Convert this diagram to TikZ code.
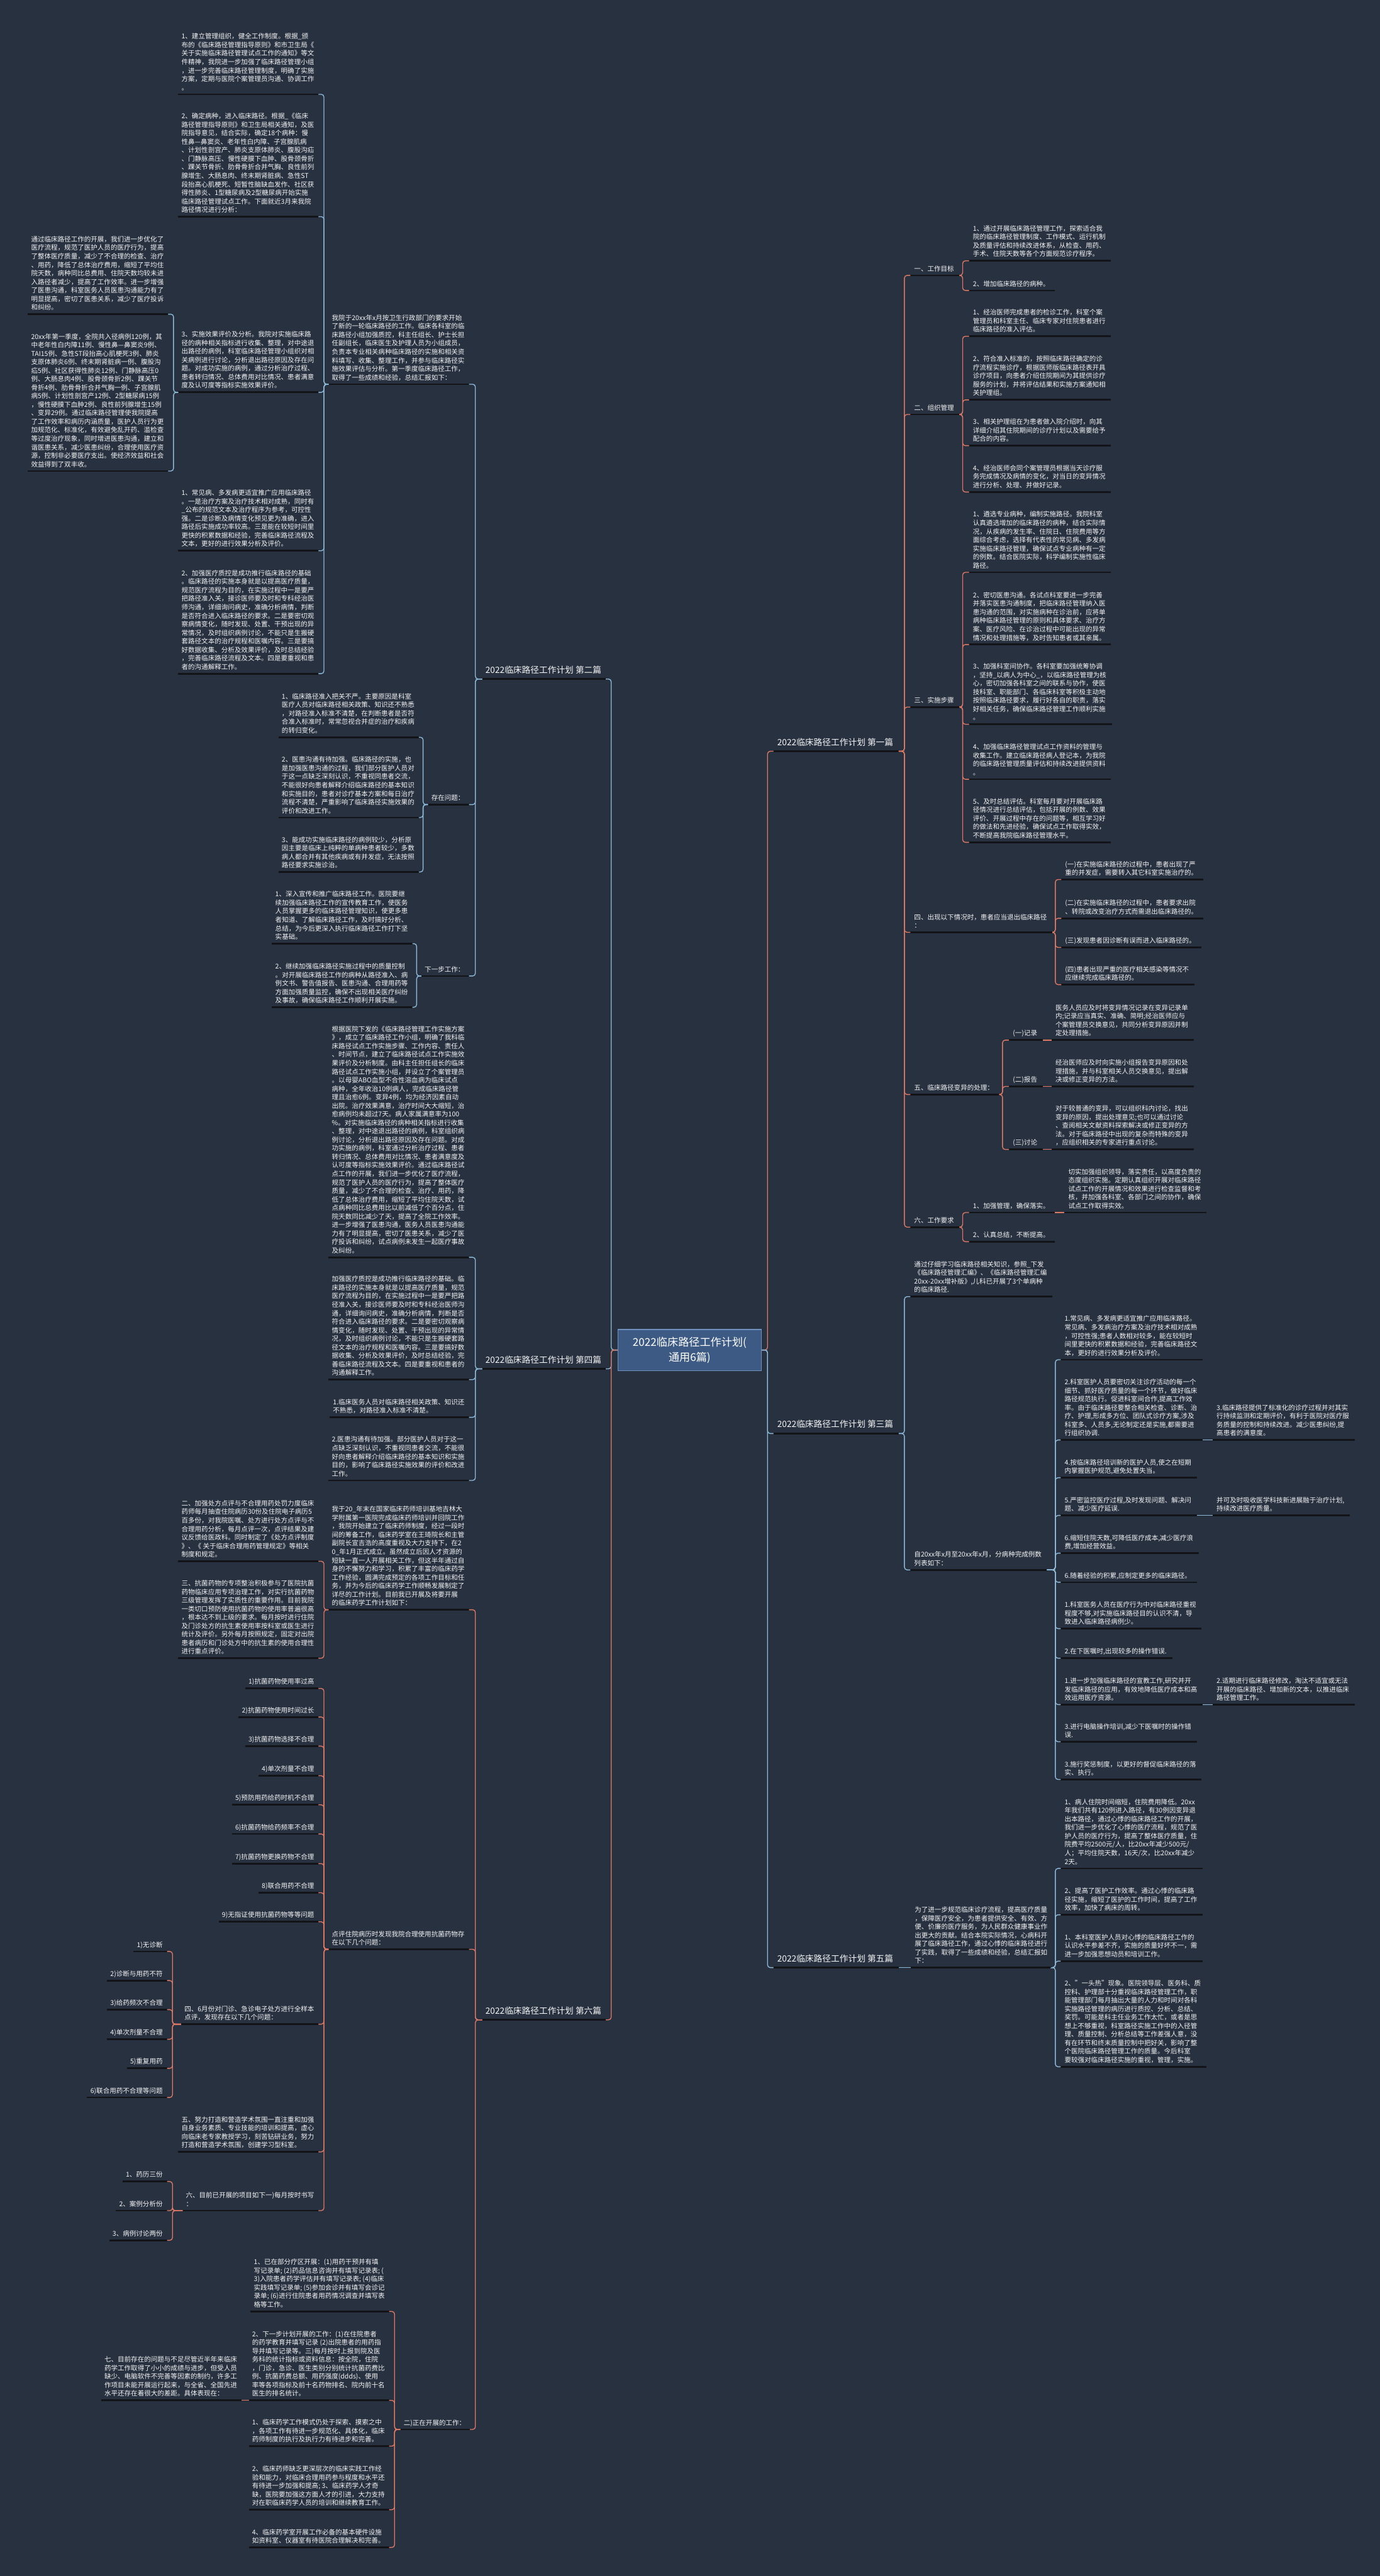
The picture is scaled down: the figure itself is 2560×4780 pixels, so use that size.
\documentclass[tikz,border=0pt]{standalone}
\usepackage{fontspec}
\setmainfont{Noto Sans CJK SC}
\definecolor{bgc}{RGB}{40,49,64}
\definecolor{ctrf}{RGB}{60,90,132}
\definecolor{ctrb}{RGB}{110,145,190}
\definecolor{bluec}{RGB}{140,185,215}
\definecolor{coralc}{RGB}{222,120,100}
\definecolor{ulc}{RGB}{18,20,24}
\definecolor{txtc}{RGB}{245,245,245}
\tikzset{
  txt/.style={inner sep=0pt, align=left, text=txtc, font=\fontsize{12.3}{15.8}\selectfont},
  lab/.style={font=\fontsize{16}{20}\selectfont, yshift=3pt},
  uline/.style={draw=ulc, line width=3.2pt},
  cb/.style={draw=bluec, line width=1.6pt, rounded corners=5pt},
  cr/.style={draw=coralc, line width=1.6pt, rounded corners=5pt},
}
% right-growing node: name, underline left x, underline y, text
\newcommand{\mmR}[5][]{%
  \node[txt,#1,anchor=base west] (#2) at ({#3+7},{#4-8}) {#5};
  \coordinate (#2-l) at (#3,#4);
  \path (#2.east |- #2-l) ++(10pt,0) coordinate (#2-r);
  \draw[uline] (#2-l) -- (#2-r);}
% left-growing node: name, underline right x, underline y, text
\newcommand{\mmL}[5][]{%
  \node[txt,#1,anchor=base east] (#2) at ({#3-8},{#4-8}) {#5};
  \coordinate (#2-r) at (#3,#4);
  \path (#2.west |- #2-r) ++(-6pt,0) coordinate (#2-l);
  \draw[uline] (#2-l) -- (#2-r);}
% elbow connector: style, from, trunk x, to
\newcommand{\mmC}[4]{\draw[#1] (#2) -- (#3,0 |- #2) -- (#3,0 |- #4) -- (#4);}

\begin{document}
\begin{tikzpicture}[x=1pt,y=-1pt]
\fill[bgc] (0,0) rectangle (2560,4780);
\useasboundingbox (0,0) rectangle (2560,4780);

\node[draw=ctrb, fill=ctrf, line width=1.2pt, minimum width=267pt, minimum height=76pt, inner sep=0pt, align=center, text=white, font=\fontsize{20}{28}\selectfont] (ctr) at (1279.5,2505) {2022临床路径工作计划(\\通用6篇)};

\mmL[lab]{L2}{1124}{1260}{2022临床路径工作计划 第二篇}
\mmL[lab]{L4}{1124}{2540}{2022临床路径工作计划 第四篇}
\mmL[lab]{L6}{1124}{3748}{2022临床路径工作计划 第六篇}
\mmR[lab]{R1}{1435}{1394}{2022临床路径工作计划 第一篇}
\mmR[lab]{R3}{1435}{2660}{2022临床路径工作计划 第三篇}
\mmR[lab]{R5}{1435}{3651}{2022临床路径工作计划 第五篇}

% ================= 第二篇 =================
\mmL{N2a}{870}{713}{我院于20xx年x月按卫生行政部门的要求开始\\了新的一轮临床路径的工作。临床各科室的临\\床路径小组加强质控，科主任组长、护士长担\\任副组长，临床医生及护理人员为小组成员，\\负责本专业相关病种临床路径的实施和相关资\\料填写、收集、整理工作，并参与临床路径实\\施效果评估与分析。第一季度临床路径工作，\\取得了一些成绩和经验，总结汇报如下：}
\mmL{N2b}{870}{1493}{存在问题：}
\mmL{N2c}{870}{1811}{下一步工作：}
\mmL{A1}{591}{175}{1、建立管理组织，健全工作制度。根据\_颁\\布的《临床路径管理指导原则》和市卫生局《\\关于实施临床路径管理试点工作的通知》等文\\件精神，我院进一步加强了临床路径管理小组\\，进一步完善临床路径管理制度，明确了实施\\方案，定期与医院个案管理员沟通、协调工作\\。}
\mmL{A2}{591}{402}{2、确定病种，进入临床路径。根据\_《临床\\路径管理指导原则》和卫生局相关通知，及医\\院指导意见，结合实际，确定18个病种：慢\\性鼻—鼻窦炎、老年性白内障、子宫腺肌病\\、计划性剖宫产、肺炎支原体肺炎、腹股沟疝\\、门静脉高压、慢性硬膜下血肿、股骨颈骨折\\、踝关节骨折、肋骨骨折合并气胸、良性前列\\腺增生、大肠息肉、终末期肾脏病、急性ST\\段抬高心肌梗死、短暂性脑缺血发作、社区获\\得性肺炎、1型糖尿病及2型糖尿病开始实施\\临床路径管理试点工作。下面就近3月来我院\\路径情况进行分析：}
\mmL{A3}{591}{728}{3、实施效果评价及分析。我院对实施临床路\\径的病种相关指标进行收集、整理，对中途退\\出路径的病例，科室临床路径管理小组织对相\\关病例进行讨论，分析退出路径原因及存在问\\题。对成功实施的病例，通过分析治疗过程、\\患者转归情况、总体费用对比情况、患者满意\\度及认可度等指标实施效果评价。}
\mmL{C1}{312}{583}{通过临床路径工作的开展，我们进一步优化了\\医疗流程，规范了医护人员的医疗行为，提高\\了整体医疗质量，减少了不合理的检查、治疗\\、用药，降低了总体治疗费用，缩短了平均住\\院天数，病种同比总费用、住院天数均较未进\\入路径者减少，提高了工作效率。进一步增强\\了医患沟通，科室医务人员医患沟通能力有了\\明显提高，密切了医患关系，减少了医疗投诉\\和纠纷。}
\mmL{C2}{312}{874}{20xx年第一季度，全院共入径病例120例，其\\中老年性白内障11例、慢性鼻—鼻窦炎9例、\\TAI15例、急性ST段抬高心肌梗死3例、肺炎\\支原体肺炎6例、终末期肾脏病一例、腹股沟\\疝5例、社区获得性肺炎12例、门静脉高压0\\例、大肠息肉4例、股骨颈骨折2例、踝关节\\骨折4例、肋骨骨折合并气胸一例、子宫腺肌\\病5例、计划性剖宫产12例、2型糖尿病15例\\，慢性硬膜下血肿2例、良性前列腺增生15例\\、变异29例。通过临床路径管理使我院提高\\了工作效率和病历内涵质量，医护人员行为更\\加规范化、标准化，有效避免乱开药、滥检查\\等过度治疗现象，同时增进医患沟通，建立和\\谐医患关系，减少医患纠纷，合理使用医疗资\\源，控制非必要医疗支出。使经济效益和社会\\效益得到了双丰收。}
\mmL{B1}{591}{1022}{1、常见病、多发病更适宜推广应用临床路径\\。一是治疗方案及治疗技术相对成熟，同时有\\\_公布的规范文本及治疗程序为参考，可控性\\强。二是诊断及病情变化预见更为准确，进入\\路径后实施成功率较高。三是能在较短时间里\\更快的积累数据和经验，完善临床路径流程及\\文本，更好的进行效果分析及评价。}
\mmL{B2}{591}{1250}{2、加强医疗质控是成功推行临床路径的基础\\。临床路径的实施本身就是以提高医疗质量，\\规范医疗流程为目的，在实施过程中一是要严\\把路径准入关，接诊医师要及时和专科经治医\\师沟通，详细询问病史，准确分析病情，判断\\是否符合进入临床路径的要求。二是要密切观\\察病情变化，随时发现、处置、干预出现的异\\常情况，及时组织病例讨论，不能只是生搬硬\\套路径文本的治疗规程和医嘱内容。三是要搞\\好数据收集、分析及效果评价，及时总结经验\\，完善临床路径流程及文本。四是要重视和患\\者的沟通解释工作。}
\mmL{D1}{777}{1368}{1、临床路径准入把关不严。主要原因是科室\\医疗人员对临床路径相关政策、知识还不熟悉\\，对路径准入标准不清楚，在判断患者是否符\\合准入标准时，常常忽视合并症的治疗和疾病\\的转归变化。}
\mmL{D2}{777}{1517}{2、医患沟通有待加强。临床路径的实施，也\\是加强医患沟通的过程，我们部分医护人员对\\于这一点缺乏深刻认识，不重视同患者交流，\\不能很好向患者解释介绍临床路径的基本知识\\和实施目的，患者对诊疗基本方案和每日治疗\\流程不清楚，严重影响了临床路径实施效果的\\评价和改进工作。}
\mmL{D3}{777}{1618}{3、能成功实施临床路径的病例较少，分析原\\因主要是临床上纯粹的单病种患者较少，多数\\病人都合并有其他疾病或有并发症，无法按照\\路径要求实施诊治。}
\mmL{E1}{765}{1751}{1、深入宣传和推广临床路径工作。医院要继\\续加强临床路径工作的宣传教育工作，使医务\\人员掌握更多的临床路径管理知识，使更多患\\者知道、了解临床路径工作，及时搞好分析、\\总结，为今后更深入执行临床路径工作打下坚\\实基础。}
\mmL{E2}{765}{1869}{2、继续加强临床路径实施过程中的质量控制\\。对开展临床路径工作的病种从路径准入、病\\例文书、警告值报告、医患沟通、合理用药等\\方面加强质量监控，确保不出现相关医疗纠纷\\及事故，确保临床路径工作顺利开展实施。}

% ================= 第四篇 =================
\mmL{F1}{870}{2333}{根据医院下发的《临床路径管理工作实施方案\\》，成立了临床路径工作小组，明确了我科临\\床路径试点工作实施步骤、工作内容、责任人\\、时间节点，建立了临床路径试点工作实施效\\果评价及分析制度。由科主任担任组长的临床\\路径试点工作实施小组，并设立了个案管理员\\。以母婴ABO血型不合性溶血病为临床试点\\病种，全年收治10例病人，完成临床路径管\\理且治愈6例。变异4例，均为经济因素自动\\出院。治疗效果满意，治疗时间大大缩短，治\\愈病例均未超过7天。病人家属满意率为100\\\%。对实施临床路径的病种相关指标进行收集\\、整理，对中途退出路径的病例，科室组织病\\例讨论，分析退出路径原因及存在问题。对成\\功实施的病例，科室通过分析治疗过程、患者\\转归情况、总体费用对比情况、患者满意度及\\认可度等指标实施效果评价。通过临床路径试\\点工作的开展，我们进一步优化了医疗流程，\\规范了医护人员的医疗行为，提高了整体医疗\\质量，减少了不合理的检查、治疗、用药，降\\低了总体治疗费用，缩短了平均住院天数，试\\点病种同比总费用比以前减低了个百分点，住\\院天数同比减少了天，提高了全院工作效率。\\进一步增强了医患沟通，医务人员医患沟通能\\力有了明显提高，密切了医患关系，减少了医\\疗投诉和纠纷，试点病例未发生一起医疗事故\\及纠纷。}
\mmL{F2}{870}{2560}{加强医疗质控是成功推行临床路径的基础。临\\床路径的实施本身就是以提高医疗质量，规范\\医疗流程为目的，在实施过程中一是要严把路\\径准入关，接诊医师要及时和专科经治医师沟\\通，详细询问病史，准确分析病情，判断是否\\符合进入临床路径的要求。二是要密切观察病\\情变化，随时发现、处置、干预出现的异常情\\况，及时组织病例讨论，不能只是生搬硬套路\\径文本的治疗规程和医嘱内容。三是要搞好数\\据收集、分析及效果评价，及时总结经验，完\\善临床路径流程及文本。四是要重视和患者的\\沟通解释工作。}
\mmL{F3}{870}{2630}{1.临床医务人员对临床路径相关政策、知识还\\不熟悉，对路径准入标准不清楚。}
\mmL{F4}{870}{2747}{2.医患沟通有待加强。部分医护人员对于这一\\点缺乏深刻认识，不重视同患者交流，不能很\\好向患者解释介绍临床路径的基本知识和实施\\目的，影响了临床路径实施效果的评价和改进\\工作。}

% ================= 第六篇 =================
\mmL{G0}{870}{2987}{我于20\_年末在国家临床药师培训基地吉林大\\学附属第一医院完成临床药师培训并回院工作\\，我院开始建立了临床药师制度，经过一段时\\间的筹备工作，临床药学室在王琦院长和主管\\副院长宣吉浩的高度重视及大力支持下，在2\\0\_年1月正式成立。虽然成立后因人才资源的\\短缺一直一人开展相关工作，但这半年通过自\\身的不懈努力和学习，积累了丰富的临床药学\\工作经验，圆满完成预定的各项工作目标和任\\务，并为今后的临床药学工作顺畅发展制定了\\详尽的工作计划。目前我已开展及将要开展\\的临床药学工作计划如下：}
\mmL{G1}{591}{2897}{二、加强处方点评与不合理用药处罚力度临床\\药师每月抽查住院病历30份及住院电子病历5\\百多份，对我院医嘱、处方进行处方点评与不\\合理用药分析，每月点评一次，点评结果及建\\议反馈给医政科。同时制定了《处方点评制度\\》、《 关于临床合理用药管理规定》等相关\\制度和规定。}
\mmL{G2}{591}{3077}{三、抗菌药物的专项整治积极参与了医院抗菌\\药物临床应用专项治理工作，对实行抗菌药物\\三级管理发挥了实质性的重要作用。目前我院\\一类切口预防使用抗菌药物的使用率普遍很高\\，根本达不到上级的要求。每月按时进行住院\\及门诊处方的抗生素使用率按科室或医生进行\\统计及评价。另外每月按照规定，固定对出院\\患者病历和门诊处方中的抗生素的使用合理性\\进行重点评价。}
\mmL{P}{870}{3617}{点评住院病历时发现我院合理使用抗菌药物存\\在以下几个问题：}
\mmL{I1}{591}{3133}{1)抗菌药物使用率过高}
\mmL{I2}{591}{3186}{2)抗菌药物使用时间过长}
\mmL{I3}{591}{3240}{3)抗菌药物选择不合理}
\mmL{I4}{591}{3295}{4)单次剂量不合理}
\mmL{I5}{591}{3349}{5)预防用药给药时机不合理}
\mmL{I6}{591}{3403}{6)抗菌药物给药频率不合理}
\mmL{I7}{591}{3458}{7)抗菌药物更换药物不合理}
\mmL{I8}{591}{3512}{8)联合用药不合理}
\mmL{I9}{591}{3566}{9)无指证使用抗菌药物等等问题}
\mmL{S4}{591}{3756}{四、6月份对门诊、急诊电子处方进行全样本\\点评，发现存在以下几个问题：}
\mmL{S5}{591}{3993}{五、努力打造和营造学术氛围一直注重和加强\\自身业务素质、专业技能的培训和提高，虚心\\向临床老专家教授学习，刻苦钻研业务，努力\\打造和营造学术氛围，创建学习型科室。}
\mmL{S6}{591}{4102}{六、目前已开展的项目如下一)每月按时书写\\：}
\mmL{J1}{310}{3621}{1)无诊断}
\mmL{J2}{310}{3675}{2)诊断与用药不符}
\mmL{J3}{310}{3729}{3)给药频次不合理}
\mmL{J4}{310}{3784}{4)单次剂量不合理}
\mmL{J5}{310}{3838}{5)重复用药}
\mmL{J6}{310}{3892}{6)联合用药不合理等问题}
\mmL{M1}{310}{4048}{1、药历三份}
\mmL{M2}{310}{4102}{2、案例分析份}
\mmL{M3}{310}{4157}{3、病例讨论两份}
\mmL{Q}{872}{4508}{二)正在开展的工作：}
\mmL{H1}{722}{4289}{1、已在部分疗区开展：(1)用药干预并有填\\写记录单; (2)药品信息咨询并有填写记录表; (\\3)入院患者药学评估并有填写记录表; (4)临床\\实践填写记录单; (5)参加会诊并有填写会诊记\\录单; (6)进行住院患者用药情况调查并填写表\\格等工作。}
\mmL{H2}{722}{4454}{2、下一步计划开展的工作：(1)在住院患者\\的药学教育并填写记录 (2)出院患者的用药指\\导并填写记录等。三)每月按时上报到院及医\\务科的统计指标或资料信息：按全院，住院\\，门诊，急诊、医生类别分别统计抗菌药费比\\例、抗菌药费总额、用药强度(ddds)、使用\\率等各项指标及前十名药物排名、院内前十名\\医生的排名统计。}
\mmL{Q7}{448}{4454}{七、目前存在的问题与不足尽管近半年来临床\\药学工作取得了小小的成绩与进步，但受人员\\缺少、电脑软件不完善等因素的制约，许多工\\作项目未能开展运行起来，与全省、全国先进\\水平还存在着很大的差距。具体表现在：}
\mmL{H3}{722}{4539}{1、临床药学工作模式仍处于探索、摸索之中\\，各项工作有待进一步规范化、具体化，临床\\药师制度的执行及执行力有待进步和完善。}
\mmL{H4}{722}{4657}{2、临床药师缺乏更深层次的临床实践工作经\\验和能力，对临床合理用药参与程度和水平还\\有待进一步加强和提高; 3、临床药学人才奇\\缺，医院要加强这方面人才的引进，大力支持\\对在职临床药学人员的培训和继续教育工作。}
\mmL{H5}{722}{4727}{4、临床药学室开展工作必备的基本硬件设施\\如资料室、仪器室有待医院合理解决和完善。}

% ================= 第一篇 =================
\mmR{T1}{1689}{511}{一、工作目标}
\mmR{T2}{1689}{769}{二、组织管理}
\mmR{T3}{1689}{1312}{三、实施步骤}
\mmR{T4}{1689}{1730}{四、出现以下情况时，患者应当退出临床路径\\：}
\mmR{T5}{1689}{2031}{五、临床路径变异的处理：}
\mmR{T6}{1689}{2277}{六、工作要求}
\mmR{U11}{1798}{484}{1、通过开展临床路径管理工作，探索适合我\\院的临床路径管理制度、工作模式、运行机制\\及质量评估和持续改进体系，从检查、用药、\\手术、住院天数等各个方面规范诊疗程序。}
\mmR{U12}{1798}{539}{2、增加临床路径的病种。}
\mmR{U21}{1798}{624}{1、经治医师完成患者的检诊工作，科室个案\\管理员和科室主任、临床专家对住院患者进行\\临床路径的准入评估。}
\mmR{U22}{1798}{742}{2、符合准入标准的，按照临床路径确定的诊\\疗流程实施诊疗，根据医师版临床路径表开具\\诊疗项目，向患者介绍住院期间为其提供诊疗\\服务的计划，并将评估结果和实施方案通知相\\关护理组。}
\mmR{U23}{1798}{827}{3、相关护理组在为患者做入院介绍时，向其\\详细介绍其住院期间的诊疗计划以及需要给予\\配合的内容。}
\mmR{U24}{1798}{913}{4、经治医师会同个案管理员根据当天诊疗服\\务完成情况及病情的变化，对当日的变异情况\\进行分析、处理、并做好记录。}
\mmR{U31}{1798}{1062}{1、遴选专业病种，编制实施路径。我院科室\\认真遴选增加的临床路径的病种，结合实际情\\况，从疾病的发生率、住院日、住院费用等方\\面综合考虑，选择有代表性的常见病、多发病\\实施临床路径管理，确保试点专业病种有一定\\的例数。结合医院实际，科学编制实施性临床\\路径。}
\mmR{U32}{1798}{1196}{2、密切医患沟通。各试点科室要进一步完善\\并落实医患沟通制度，把临床路径管理纳入医\\患沟通的范围，对实施病种在诊治前，应将单\\病种临床路径管理的原则和具体要求、治疗方\\案、医疗风险、在诊治过程中可能出现的异常\\情况和处理措施等，及时告知患者或其亲属。}
\mmR{U33}{1798}{1344}{3、加强科室间协作。各科室要加强统筹协调\\，坚持\_以病人为中心\_，以临床路径管理为核\\心，密切加强各科室之间的联系与协作，使医\\技科室、职能部门、各临床科室等积极主动地\\按照临床路径要求，履行好各自的职责，落实\\好相关任务，确保临床路径管理工作顺利实施\\。}
\mmR{U34}{1798}{1446}{4、加强临床路径管理试点工作资料的管理与\\收集工作。建立临床路径病人登记本，为我院\\的临床路径管理质量评估和持续改进提供资料\\。}
\mmR{U35}{1798}{1563}{5、及时总结评估。科室每月要对开展临床路\\径情况进行总结评估，包括开展的例数、效果\\评价、开展过程中存在的问题等，相互学习好\\的做法和先进经验，确保试点工作取得实效，\\不断提高我院临床路径管理水平。}
\mmR{V1}{1969}{1632}{(一)在实施临床路径的过程中，患者出现了严\\重的并发症，需要转入其它科室实施治疗的。}
\mmR{V2}{1969}{1704}{(二)在实施临床路径的过程中，患者要求出院\\、转院或改变治疗方式而需退出临床路径的。}
\mmR{V3}{1969}{1758}{(三)发现患者因诊断有误而进入临床路径的。}
\mmR{V4}{1969}{1827}{(四)患者出现严重的医疗相关感染等情况不\\应继续完成临床路径的。}
\mmR{W1}{1872}{1930}{(一)记录}
\mmR{W2}{1872}{2016}{(二)报告}
\mmR{W3}{1872}{2133}{(三)讨论}
\mmR{X1}{1951}{1930}{医务人员应及时将变异情况记录在变异记录单\\内;记录应当真实、准确、简明;经治医师应与\\个案管理员交换意见，共同分析变异原因并制\\定处理措施。}
\mmR{X2}{1951}{2016}{经治医师应及时向实施小组报告变异原因和处\\理措施，并与科室相关人员交换意见，提出解\\决或修正变异的方法。}
\mmR{X3}{1951}{2133}{对于较普通的变异，可以组织科内讨论，找出\\变异的原因，提出处理意见;也可以通过讨论\\、查阅相关文献资料探索解决或修正变异的方\\法。对于临床路径中出现的复杂而特殊的变异\\，应组织相关的专家进行重点讨论。}
\mmR{Y1}{1798}{2250}{1、加强管理，确保落实。}
\mmR{Y2}{1798}{2304}{2、认真总结，不断提高。}
\mmR{Z1}{1975}{2250}{切实加强组织领导，落实责任，以高度负责的\\态度组织实施。定期认真组织开展对临床路径\\试点工作的开展情况和效果进行检查监督和考\\核，并加强各科室、各部门之间的协作，确保\\试点工作取得实效。}

% ================= 第三篇 =================
\mmR{O1}{1689}{2406}{通过仔细学习临床路径相关知识，参照\_下发\\《临床路径管理汇编》、《临床路径管理汇编\\20xx-20xx增补版》,儿科已开展了3个单病种\\的临床路径.}
\mmR{O2}{1689}{2913}{自20xx年x月至20xx年x月，分病种完成例数\\列表如下：}
\mmR{K1}{1968}{2523}{1.常见病、多发病更适宜推广应用临床路径。\\常见病、多发病治疗方案及治疗技术相对成熟\\，可控性强;患者人数相对较多，能在较短时\\间里更快的积累数据和经验，完善临床路径文\\本，更好的进行效果分析及评价。}
\mmR{K2}{1968}{2672}{2.科室医护人员要密切关注诊疗活动的每一个\\细节、抓好医疗质量的每一个环节，做好临床\\路径规范执行。促进科室间合作,提高工作效\\率。由于临床路径要整合相关检查、诊断、治\\疗、护理,形成多方位、团队式诊疗方案,涉及\\科室多、人员多,无论制定还是实施,都需要进\\行组织协调.}
\mmR{K2a}{2250}{2672}{3.临床路径提供了标准化的诊疗过程并对其实\\行持续监测和定期评价，有利于医院对医疗服\\务质量的控制和持续改进。减少医患纠纷,提\\高患者的满意度。}
\mmR{K3}{1968}{2742}{4.按临床路径培训新的医护人员,使之在短期\\内掌握医护规范,避免处置失当。}
\mmR{K4}{1968}{2812}{5.严密监控医疗过程,及时发现问题、解决问\\题、减少医疗延误.}
\mmR{K4a}{2250}{2812}{并可及时吸收医学科技新进展融于治疗计划,\\持续改进医疗质量。}
\mmR{K5}{1968}{2882}{6.缩短住院天数,可降低医疗成本,减少医疗浪\\费,增加经营效益。}
\mmR{K6}{1968}{2936}{6.随着经验的积累,应制定更多的临床路径。}
\mmR{K7}{1968}{3022}{1.科室医务人员在医疗行为中对临床路径重视\\程度不够,对实施临床路径目的认识不清，导\\致进入临床路径病例少。}
\mmR{K8}{1968}{3077}{2.在下医嘱时,出现较多的操作错误.}
\mmR{K9}{1968}{3163}{1.进一步加强临床路径的宣教工作,研究并开\\发临床路径的应用，有效地降低医疗成本和高\\效运用医疗资源。}
\mmR{K9a}{2250}{3163}{2.适期进行临床路径修改，淘汰不适宜或无法\\开展的临床路径、增加新的文本，以推进临床\\路径管理工作。}
\mmR{K10}{1968}{3232}{3.进行电脑操作培训,减少下医嘱时的操作错\\误.}
\mmR{K11}{1968}{3302}{3.施行奖惩制度，以更好的督促临床路径的落\\实、执行。}

% ================= 第五篇 =================
\mmR{Fv}{1690}{3651}{为了进一步规范临床诊疗流程，提高医疗质量\\，保障医疗安全，为患者提供安全、有效、方\\便、价廉的医疗服务，为人民群众健康事业作\\出更大的贡献。结合本院实际情况，心病科开\\展了临床路径工作，通过心悸的临床路径进行\\了实践，取得了一些成绩和经验，总结汇报如\\下：}
\mmR{LL1}{1968}{3467}{1、病人住院时间缩短，住院费用降低。20xx\\年我们共有120例进入路径，有30例因变异退\\出本路径，通过心悸的临床路径工作的开展，\\我们进一步优化了心悸的医疗流程，规范了医\\护人员的医疗行为，提高了整体医疗质量，住\\院费平均2500元/人，比20xx年减少500元/\\人；平均住院天数，16天/次，比20xx年减少\\2天。}
\mmR{LL2}{1968}{3553}{2、提高了医护工作效率。通过心悸的临床路\\径实施，缩短了医护的工作时间，提高了工作\\效率，加快了病床的周转。}
\mmR{LL3}{1968}{3639}{1、本科室医护人员对心悸的临床路径工作的\\认识水平参差不齐，实施的质量好坏不一，需\\进一步加强思想动员和培训工作。}
\mmR{LL4}{1968}{3835}{2、"一头热"现象。医院领导层、医务科、质\\控科、护理部十分重视临床路径管理工作，职\\能管理部门每月抽出大量的人力和时间对各科\\实施路径管理的病历进行质控、分析、总结、\\奖罚。可能是科主任业务工作太忙，或者是思\\想上不够重视，科室路径实施工作中的入径管\\理、质量控制、分析总结等工作差强人意，没\\有在环节和终末质量控制中把好关，影响了整\\个医院临床路径管理工作的质量。今后科室\\要较强对临床路径实施的重视，管理，实施。}

% ================= connectors =================
\mmC{cb}{ctr.west}{1134}{L2-r}
\mmC{cb}{ctr.west}{1134}{L4-r}
\mmC{cr}{ctr.west}{1134}{L6-r}
\mmC{cr}{ctr.east}{1424}{R1-l}
\mmC{cb}{ctr.east}{1424}{R3-l}
\mmC{cb}{ctr.east}{1424}{R5-l}

\foreach \c in {N2a,N2b,N2c} {\mmC{cb}{L2-l}{882}{\c-r}}
\foreach \c in {A1,A2,A3,B1,B2} {\mmC{cb}{N2a-l}{601}{\c-r}}
\foreach \c in {C1,C2} {\mmC{cb}{A3-l}{322}{\c-r}}
\foreach \c in {D1,D2,D3} {\mmC{cb}{N2b-l}{785}{\c-r}}
\foreach \c in {E1,E2} {\mmC{cb}{N2c-l}{773}{\c-r}}

\foreach \c in {F1,F2,F3,F4} {\mmC{cb}{L4-l}{882}{\c-r}}

\foreach \c in {G0,P,Q} {\mmC{cr}{L6-l}{882}{\c-r}}
\foreach \c in {G1,G2} {\mmC{cr}{G0-l}{601}{\c-r}}
\foreach \c in {I1,I2,I3,I4,I5,I6,I7,I8,I9,S4,S5,S6} {\mmC{cr}{P-l}{601}{\c-r}}
\foreach \c in {J1,J2,J3,J4,J5,J6} {\mmC{cr}{S4-l}{320}{\c-r}}
\foreach \c in {M1,M2,M3} {\mmC{cr}{S6-l}{320}{\c-r}}
\foreach \c in {H1,H2,H3,H4,H5} {\mmC{cr}{Q-l}{732}{\c-r}}
\draw[cr] (H2-l) -- (Q7-r);

\foreach \c in {T1,T2,T3,T4,T5,T6} {\mmC{cr}{R1-r}{1678}{\c-l}}
\foreach \c in {U11,U12} {\mmC{cr}{T1-r}{1786}{\c-l}}
\foreach \c in {U21,U22,U23,U24} {\mmC{cr}{T2-r}{1786}{\c-l}}
\foreach \c in {U31,U32,U33,U34,U35} {\mmC{cr}{T3-r}{1786}{\c-l}}
\foreach \c in {V1,V2,V3,V4} {\mmC{cr}{T4-r}{1958}{\c-l}}
\foreach \c in {W1,W2,W3} {\mmC{cr}{T5-r}{1860}{\c-l}}
\draw[cr] (W1-r) -- (X1-l);
\draw[cr] (W2-r) -- (X2-l);
\draw[cr] (W3-r) -- (X3-l);
\foreach \c in {Y1,Y2} {\mmC{cr}{T6-r}{1786}{\c-l}}
\draw[cr] (Y1-r) -- (Z1-l);

\foreach \c in {O1,O2} {\mmC{cb}{R3-r}{1678}{\c-l}}
\foreach \c in {K1,K2,K3,K4,K5,K6,K7,K8,K9,K10,K11} {\mmC{cb}{O2-r}{1958}{\c-l}}
\draw[cb] (K2-r) -- (K2a-l);
\draw[cb] (K4-r) -- (K4a-l);
\draw[cb] (K9-r) -- (K9a-l);

\draw[cb] (R5-r) -- (Fv-l);
\foreach \c in {LL1,LL2,LL3,LL4} {\mmC{cb}{Fv-r}{1958}{\c-l}}
\end{tikzpicture}
\end{document}
